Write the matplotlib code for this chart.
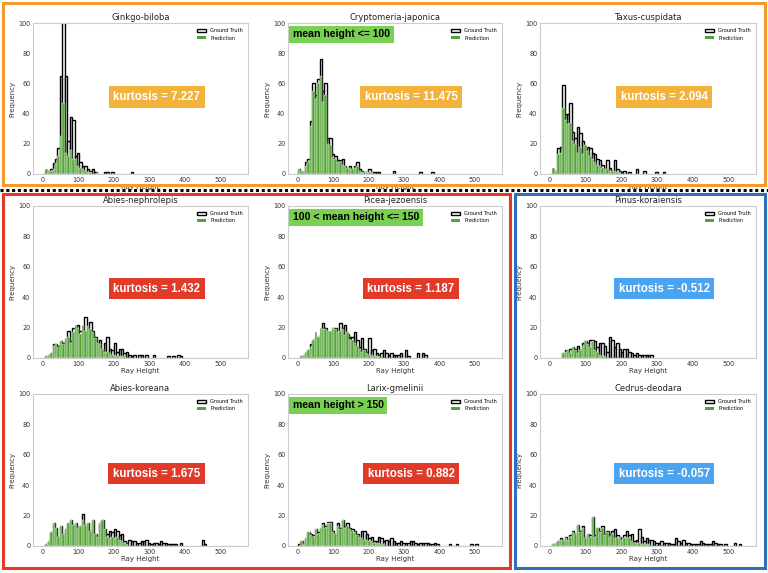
import numpy as np
import matplotlib.pyplot as plt
from matplotlib.patches import Rectangle, Patch
from matplotlib.lines import Line2D

# histogram bins shared by all panels
N_BINS = 80
X_MAX = 550

species = ["Ginkgo-biloba", "Cryptomeria-japonica", "Taxus-cuspidata",
           "Abies-nephrolepis", "Picea-jezoensis", "Pinus-koraiensis",
           "Abies-koreana", "Larix-gmelinii", "Cedrus-deodara"]
kurtosis = [7.227, 11.475, 2.094, 1.432, 1.187, -0.512, 1.675, 0.882, -0.057]
group_labels = {1: "mean height <= 100", 4: "100 < mean height <= 150", 7: "mean height > 150"}

# counts per bin (bins not listed are zero)
gt_ginkgo = [0, 2, 2, 3, 7, 10, 17, 65, 100, 65, 22, 38, 36, 12, 14, 8, 5, 5, 3, 2, 3, 1, 0, 0, 0, 1, 1, 0, 1,
             0, 0, 0, 0, 0, 0, 0, 1]
pred_ginkgo = [0, 3, 2, 2, 3, 7, 12, 25, 47, 14, 12, 16, 10, 10, 5, 4, 3, 2, 1, 1, 0, 0, 1]

gt_cryptomeria = [3, 1, 2, 8, 10, 35, 60, 52, 63, 76, 55, 60, 24, 24, 13, 12, 9, 9, 10, 5, 4, 5, 3, 5, 8, 3, 2,
                  1, 1, 3, 1, 1, 1, 1, 0, 0, 0, 0, 0, 2, 0, 0, 0, 0, 0, 0, 0, 0, 0, 0, 1, 0, 0, 0, 0, 1]
pred_cryptomeria = [3, 2, 2, 5, 8, 32, 55, 50, 60, 65, 48, 52, 20, 19, 11, 10, 8, 8, 6, 5, 4, 4, 3, 4, 5, 2, 1,
                    1, 1, 1, 1]

gt_taxus = [0, 1, 2, 17, 18, 59, 40, 40, 47, 28, 24, 31, 27, 22, 17, 18, 17, 14, 13, 10, 9, 6, 3, 9, 4, 2, 9, 3,
            2, 1, 2, 0, 1, 0, 0, 3, 0, 0, 2, 0, 0, 0, 0, 1, 0, 0, 1]
pred_taxus = [0, 4, 2, 13, 14, 44, 36, 33, 34, 22, 20, 14, 18, 13, 19, 15, 12, 10, 8, 6, 5, 4, 3, 3, 2, 2, 2, 1, 1]

gt_nephrolepis = [0, 1, 2, 3, 9, 9, 8, 11, 10, 12, 18, 11, 20, 17, 22, 18, 15, 27, 16, 24, 18, 14, 10, 12, 4, 10,
                  14, 6, 5, 10, 4, 6, 6, 3, 4, 2, 1, 2, 0, 2, 2, 0, 2, 0, 0, 2, 0, 0, 0, 0, 0, 1, 0, 1, 0, 2, 1]
pred_nephrolepis = [0, 1, 2, 3, 8, 9, 7, 11, 9, 13, 14, 10, 17, 22, 20, 16, 22, 18, 21, 19, 17, 13, 10, 9, 6, 4,
                    4, 3, 2, 2, 1, 1, 1, 1]

gt_picea = [0, 1, 2, 3, 5, 9, 12, 14, 14, 16, 23, 20, 17, 17, 20, 20, 16, 23, 20, 22, 16, 14, 14, 17, 12, 7, 13,
            6, 4, 13, 5, 6, 3, 2, 3, 5, 3, 2, 3, 2, 2, 2, 3, 0, 5, 1, 0, 0, 0, 3, 0, 3, 2]
pred_picea = [0, 1, 2, 4, 5, 7, 12, 17, 14, 20, 19, 19, 18, 18, 20, 19, 17, 18, 19, 15, 17, 12, 12, 10, 8, 6, 4,
              5, 3, 2, 2, 1, 1, 1]

gt_pinus = [0, 0, 0, 0, 0, 3, 5, 5, 6, 7, 6, 8, 5, 10, 11, 10, 12, 12, 11, 7, 10, 10, 8, 4, 14, 12, 7, 10, 6, 4,
            6, 6, 4, 3, 2, 3, 2, 2, 2, 2, 2, 2]
pred_pinus = [0, 0, 0, 0, 0, 3, 4, 5, 3, 7, 5, 3, 5, 8, 11, 9, 7, 11, 5, 4, 2, 1, 1]

gt_koreana = [0, 1, 3, 9, 15, 12, 6, 13, 8, 11, 15, 17, 14, 15, 12, 13, 21, 14, 15, 10, 17, 8, 6, 15, 17, 11, 8,
              10, 9, 11, 10, 7, 8, 3, 2, 4, 3, 3, 2, 2, 3, 3, 4, 2, 1, 2, 2, 1, 3, 2, 2, 1, 1, 1, 1, 0, 2, 0, 0,
              0, 0, 0, 0, 0, 0, 4, 1]
pred_koreana = [0, 1, 3, 9, 15, 12, 6, 13, 8, 11, 15, 17, 14, 15, 12, 13, 17, 14, 15, 10, 17, 8, 6, 15, 17, 11,
                6, 5, 6, 5, 6, 4, 3, 2, 1]

gt_larix = [1, 3, 1, 5, 9, 8, 7, 11, 9, 12, 15, 13, 16, 16, 10, 8, 15, 12, 17, 13, 15, 12, 11, 10, 8, 6, 10, 10,
            8, 5, 6, 3, 3, 6, 5, 3, 4, 3, 5, 3, 2, 2, 3, 2, 2, 2, 3, 3, 2, 1, 2, 2, 2, 2, 1, 1, 2, 1, 0, 0, 0, 0,
            1, 0, 0, 1, 0, 0, 0, 0, 0, 1, 0, 1]
pred_larix = [0, 3, 1, 5, 9, 7, 6, 11, 8, 12, 14, 12, 15, 15, 9, 8, 13, 11, 17, 12, 13, 11, 10, 9, 7, 6, 5, 4, 4,
              3, 3, 2, 2, 2, 1, 1]

gt_cedrus = [0, 1, 2, 3, 5, 4, 6, 4, 7, 10, 8, 14, 10, 13, 5, 8, 7, 19, 7, 12, 10, 13, 8, 10, 8, 10, 11, 7, 6, 4,
             7, 10, 7, 8, 3, 4, 11, 6, 3, 5, 4, 4, 3, 2, 2, 3, 2, 2, 2, 1, 1, 5, 3, 2, 4, 2, 2, 1, 1, 1, 1, 3, 2,
             1, 1, 1, 3, 2, 1, 1, 0, 1, 0, 0, 0, 2, 0, 1]
pred_cedrus = [0, 1, 2, 3, 4, 4, 5, 4, 6, 9, 8, 14, 9, 12, 5, 8, 6, 19, 6, 12, 9, 12, 7, 9, 6, 8, 5, 5, 6, 4, 5,
               6, 5, 3, 2, 2, 2, 1, 1, 1, 1]

ground_truth = [gt_ginkgo, gt_cryptomeria, gt_taxus, gt_nephrolepis, gt_picea, gt_pinus,
                gt_koreana, gt_larix, gt_cedrus]
predictions = [pred_ginkgo, pred_cryptomeria, pred_taxus, pred_nephrolepis, pred_picea, pred_pinus,
               pred_koreana, pred_larix, pred_cedrus]

GREEN = "#55a338"
ORANGE_BOX = "#f39a2e"
RED_BOX = "#e23a29"
BLUE_BOX = "#2f6fbe"
KURT_COLORS = ["#f2b33d", "#f2b33d", "#f2b33d",
               "#e23a29", "#e23a29", "#4aa4ef",
               "#e23a29", "#e23a29", "#4aa4ef"]
LABEL_GREEN = "#79d152"

W, H = 768, 573


def pad_counts(values):
    out = np.zeros(N_BINS)
    out[:len(values)] = values
    return out


def add_ax(fig, left, top, right, bottom):
    return fig.add_axes([left / W, 1 - bottom / H, (right - left) / W, (bottom - top) / H])


fig = plt.figure(figsize=(W / 100, H / 100), dpi=100)
fig.patch.set_facecolor("white")

edges = np.linspace(0, X_MAX, N_BINS + 1)
bw = edges[1] - edges[0]

col_left = [33, 288, 540]
col_right = [248, 502, 756]
row_top = [23, 206, 394]
row_bottom = [174, 358, 546]
kurt_y = [0.51, 0.455, 0.475]

for i, name in enumerate(species):
    r, c = divmod(i, 3)
    ax = add_ax(fig, col_left[c], row_top[r], col_right[c], row_bottom[r])
    gt = pad_counts(ground_truth[i])
    pred = pad_counts(predictions[i])
    nz = gt > 0
    ax.plot([edges[0], edges[-1]], [0, 0], color="0.6", lw=0.8, zorder=1)
    ax.bar(edges[:-1][nz], gt[nz], width=bw, align="edge", facecolor="white",
           edgecolor="black", linewidth=1.0, zorder=2)
    ax.bar(edges[:-1], pred, width=bw, align="edge", facecolor=GREEN,
           edgecolor="white", linewidth=0.3, zorder=3)
    ax.set_xlim(-27.5, 577.5)
    ax.set_ylim(0, 100)
    ax.set_xticks([0, 100, 200, 300, 400, 500])
    ax.set_yticks([0, 20, 40, 60, 80, 100])
    ax.tick_params(length=0, labelsize=4.7, labelcolor="#333333", pad=2)
    for s in ax.spines.values():
        s.set_color("#cccccc")
        s.set_linewidth(0.8)
    ax.set_title(name, fontsize=6, pad=2, color="#222222")
    ax.set_xlabel("Ray Height", fontsize=5, labelpad=1, color="#333333")
    ax.set_ylabel("Frequency", fontsize=5, labelpad=2, color="#333333")
    handles = [Patch(facecolor="white", edgecolor="black", linewidth=1.0, label="Ground Truth"),
               Patch(facecolor=GREEN, label="Prediction")]
    ax.legend(handles=handles, loc="upper right", fontsize=3.6, frameon=False,
              handlelength=1.8, handleheight=0.6, borderaxespad=0.6, labelspacing=0.5)
    ax.text(0.575, kurt_y[r], f"kurtosis = {kurtosis[i]:.3f}", transform=ax.transAxes,
            ha="center", va="center", color="white", fontsize=8.3, fontweight="bold",
            family="Liberation Sans", zorder=5,
            bbox=dict(boxstyle="square,pad=0.4", facecolor=KURT_COLORS[i], edgecolor="none"))
    if i in group_labels:
        ax.text(0.022, 0.925, group_labels[i], transform=ax.transAxes, ha="left", va="center",
                color="black", fontsize=7.6, fontweight="bold", family="Liberation Sans", zorder=5,
                bbox=dict(boxstyle="square,pad=0.35", facecolor=LABEL_GREEN, edgecolor="none"))


def frame(x0, y0, x1, y1, color):
    fig.patches.append(Rectangle((x0 / W, 1 - y1 / H), (x1 - x0) / W, (y1 - y0) / H,
                                 transform=fig.transFigure, fill=False, edgecolor=color,
                                 linewidth=2.2, zorder=10))


# group frames
frame(3, 3, 765, 185, ORANGE_BOX)
frame(3, 194, 510, 568, RED_BOX)
frame(515, 194, 765, 568, BLUE_BOX)
fig.add_artist(Line2D([0, 1], [1 - 190 / H, 1 - 190 / H], transform=fig.transFigure,
                      color="black", linewidth=2.2, linestyle=(0, (1.0, 0.9)), zorder=10))

fig.savefig("out.png", dpi=100)
plt.close(fig)
